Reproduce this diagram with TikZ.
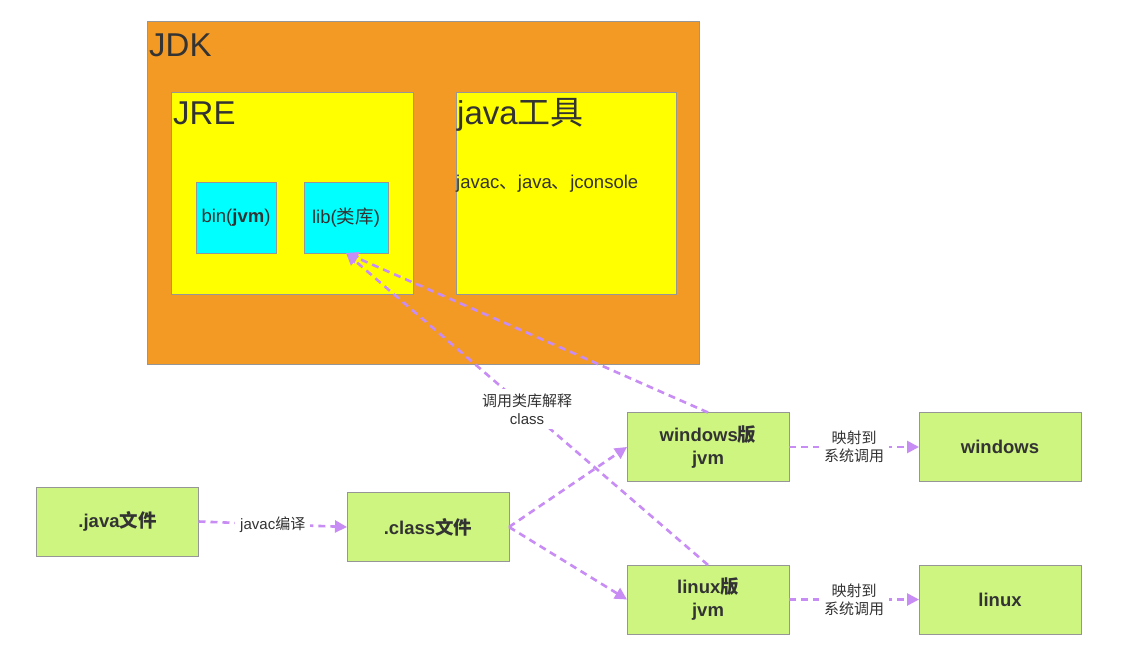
\documentclass[tikz,border=0pt]{standalone}
\usepackage{fontspec}
\setmainfont{Liberation Sans}
\newfontfamily\cjk{Noto Sans CJK SC}
\usetikzlibrary{arrows.meta}
\definecolor{jdkorange}{RGB}{242,154,36}
\definecolor{jreyellow}{RGB}{255,255,0}
\definecolor{libcyan}{RGB}{0,255,255}
\definecolor{boxgreen}{RGB}{205,245,128}
\definecolor{arrowpurple}{RGB}{200,140,245}
\definecolor{txtgray}{RGB}{51,51,51}
\definecolor{bordergray}{RGB}{150,150,150}
\begin{document}
\begin{tikzpicture}[x=1pt,y=-1pt,
  area/.style={draw=bordergray, line width=1pt, inner sep=0pt, outer sep=0pt, anchor=north west},
  gbox/.style={draw=bordergray, line width=1pt, fill=boxgreen, inner sep=0pt, outer sep=0pt,
    minimum width=162pt, minimum height=69pt, text=txtgray, font=\fontsize{18.5}{23}\selectfont\bfseries, align=center},
  cbox/.style={draw=bordergray, line width=1pt, fill=libcyan, inner sep=0pt, outer sep=0pt,
    minimum height=71pt, text=txtgray, font=\fontsize{18.5}{22}\selectfont},
  bigtitle/.style={anchor=base west, inner sep=0pt, text=txtgray, font=\fontsize{33}{38}\selectfont},
  flow/.style={draw=arrowpurple, line width=2.6pt, dash pattern=on 7pt off 5pt,
    -{Triangle[length=12pt,width=12pt]}},
  elabel/.style={fill=white, inner sep=3pt, text=txtgray, align=center, font=\fontsize{15}{18}\selectfont}]
\useasboundingbox (0,0) rectangle (1131,655);
\fill[white] (0,0) rectangle (1131,655);

% JDK container
\node[area, fill=jdkorange, minimum width=552pt, minimum height=342pt] (jdk) at (147,22) {};
\node[bigtitle] (jdklbl) at (149,57) {JDK};

% JRE
\node[area, fill=jreyellow, minimum width=242pt, minimum height=201pt] (jre) at (171,93) {};
\node[bigtitle] (jrelbl) at (173,125) {JRE};

% java tools
\node[area, fill=jreyellow, minimum width=220pt, minimum height=201pt] (tools) at (456,93) {};
\node[bigtitle] (toolslbl) at (457,125) {java{\cjk 工具}};
\node[anchor=base west, inner sep=0pt, text=txtgray, font=\fontsize{18.5}{22}\selectfont] (toolslist) at (456,188) {javac{\cjk 、}java{\cjk 、}jconsole};

% bin and lib
\node[cbox, minimum width=80pt] (bin) at (236,217.5) {bin(\textbf{jvm})};
\node[cbox, minimum width=84pt] (lib) at (346,217.5) {lib({\cjk 类库})};

% lower flow boxes
\node[gbox] (javaf) at (117.5,521.5) {.java{\cjk 文件}};
\node[gbox] (classf) at (428,527) {.class{\cjk 文件}};
\node[gbox] (winjvm) at (708,447) {windows{\cjk 版}\\jvm};
\node[gbox] (linjvm) at (708,599.5) {linux{\cjk 版}\\jvm};
\node[gbox] (win) at (1000,447) {windows};
\node[gbox] (lin) at (1000,599.5) {linux};

% connectors
\draw[flow] (javaf.east) -- node[elabel, inner sep=5pt] (lbljavac) {javac{\cjk 编译}} (classf.west);
\draw[flow] (classf.east) -- (winjvm.west);
\draw[flow] (classf.east) -- (linjvm.west);
\draw[flow] (winjvm.north) -- (lib.south);
\draw[flow] (linjvm.north) -- node[elabel, pos=0.5, inner sep=5pt] (lblclass) {{\cjk 调用类库解释}\\class} (lib.south);
\draw[flow] (winjvm.east) -- node[elabel, inner sep=5pt] (lblwin) {{\cjk 映射到}\\{\cjk 系统调用}} (win.west);
\draw[flow] (linjvm.east) -- node[elabel, inner sep=5pt] (lbllin) {{\cjk 映射到}\\{\cjk 系统调用}} (lin.west);
\end{tikzpicture}
\end{document}
